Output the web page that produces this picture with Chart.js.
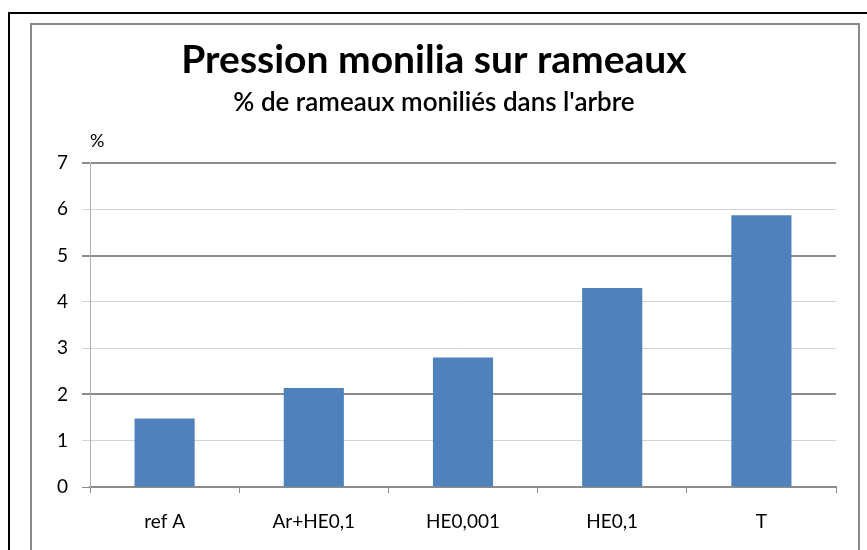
<!DOCTYPE html>
<html>
<head>
<meta charset="utf-8">
<script src="https://cdn.jsdelivr.net/npm/chart.js@4"></script>
<style>
  body { margin: 0; background: #fff; overflow: hidden; }
  #cadre { position: absolute; left: 8px; top: 12px; width: 900px; height: 600px; border: 2px solid #000; }
  #boite { position: absolute; left: 30px; top: 23px; width: 826px; height: 600px; border: 2px solid #8a8a8a; }
  #zone { position: absolute; left: 0; top: 0; width: 826px; height: 525px; }
</style>
</head>
<body>
<div id="cadre"></div>
<div id="boite"><div id="zone"><canvas id="chartGrafico"></canvas></div></div>
<script>
// donnees
var categories = ["ref A", "Ar+HE0,1", "HE0,001", "HE0,1", "T"];
var valeurs = [1.48, 2.14, 2.80, 4.30, 5.87];
var titre = "Pression monilia sur rameaux";
var sousTitre = "% de rameaux moniliés dans l'arbre";
var uniteY = "%";

var police = "Lato, 'Open Sans', sans-serif";

// petit plugin pour ecrire le % au dessus de l'axe
var pluginUnite = {
    id: 'unite',
    afterDraw: function(chart){
        let ctx = chart.ctx;
        let y = chart.scales.y;
        ctx.save();
        ctx.fillStyle = '#000';
        ctx.font = '18px ' + police;
        ctx.textAlign = 'left';
        ctx.textBaseline = 'middle';
        ctx.fillText(uniteY, y.right, chart.chartArea.top - 22);
        ctx.restore();
    }
};

var ctx = document.getElementById("chartGrafico");
var myChart = new Chart(ctx, {
    type: 'bar',
    data: {
        labels: categories,
        datasets: [{
            label: sousTitre,
            data: valeurs,
            backgroundColor: '#4F81BD',
            borderWidth: 0,
            categoryPercentage: 1,
            barPercentage: 0.403
        }]
    },
    options: {
        responsive: true,
        maintainAspectRatio: false,
        animation: false,
        layout: { padding: { left: 0, right: 22, top: 0, bottom: 0 } },
        plugins: {
            legend: { display: false },
            tooltip: { enabled: false },
            title: {
                display: true,
                text: titre,
                color: '#000',
                font: { family: police, size: 39, weight: 'bold', lineHeight: 1.2 },
                padding: { top: 12, bottom: 3 }
            },
            subtitle: {
                display: true,
                text: sousTitre,
                color: '#000',
                font: { family: police, size: 26, weight: 600, lineHeight: 1.2 },
                padding: { top: 0, bottom: 45 }
            }
        },
        scales: {
            x: {
                grid: {
                    offset: true,
                    drawOnChartArea: false,
                    drawTicks: true,
                    tickLength: 6,
                    color: '#8c8c8c'
                },
                border: { color: '#8c8c8c', width: 2 },
                ticks: { color: '#000', padding: 17, font: { family: police, size: 19 } },
                afterFit: function(scale){ scale.height = 63; }
            },
            y: {
                min: 0,
                max: 7,
                ticks: { stepSize: 1, color: '#000', padding: 14, font: { family: police, size: 19 } },
                grid: {
                    tickLength: 8,
                    color: function(c){
                        let v = c.tick ? c.tick.value : 0;
                        return (v == 7 || v == 5 || v == 2 || v == 0) ? '#8c8c8c' : '#d4d4d4';
                    },
                    lineWidth: function(c){
                        let v = c.tick ? c.tick.value : 0;
                        return (v == 7 || v == 5 || v == 2) ? 2 : 1;
                    }
                },
                border: { color: '#b0b0b0', width: 1 },
                afterFit: function(scale){ scale.width = 58; }
            }
        }
    },
    plugins: [pluginUnite]
});
</script>
</body>
</html>
